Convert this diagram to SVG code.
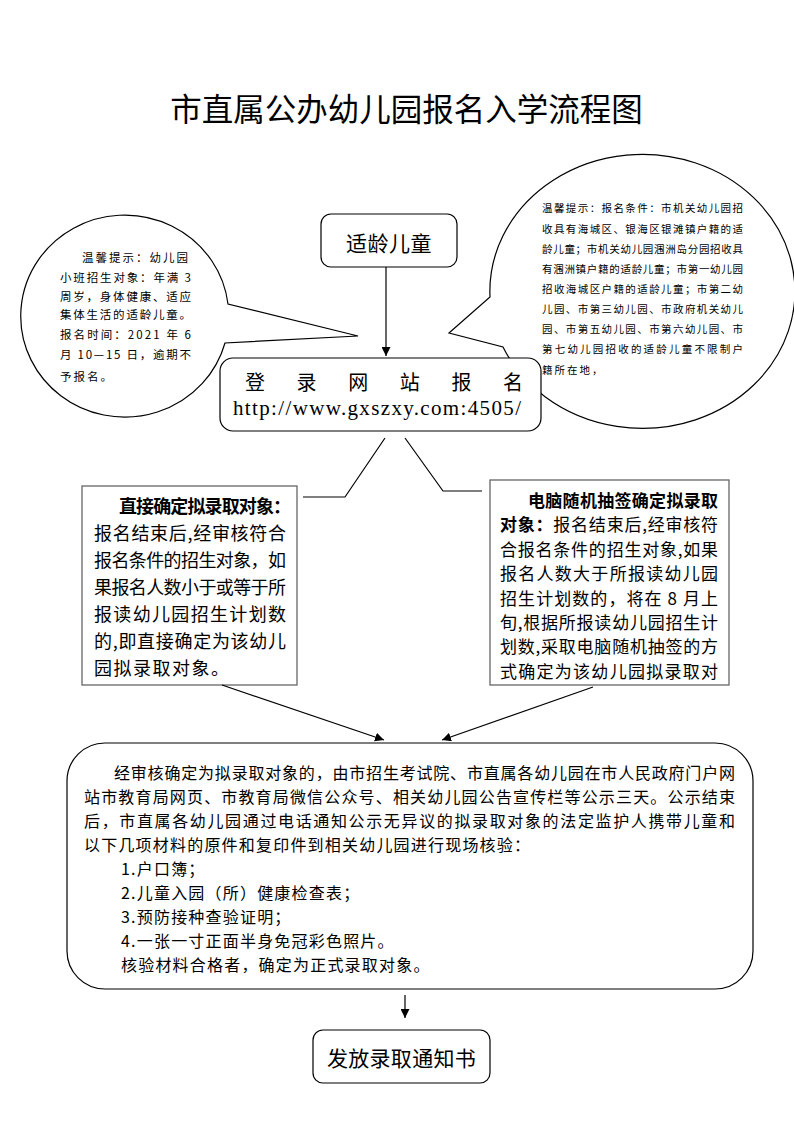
<svg xmlns="http://www.w3.org/2000/svg" width="794" height="1123" viewBox="0 0 794 1123">
<style>
.cjk{font-family:"Noto Sans CJK SC","Noto Sans",sans-serif;fill:#000}
.shape{fill:#fff;stroke:#000;stroke-width:1.2}
.gbox{fill:#fff;stroke:#666;stroke-width:1.3}
.conn{fill:none;stroke:#000;stroke-width:1.2}
.b{font-weight:bold}
</style>
<defs>
<marker id="ah" viewBox="0 0 10 10" refX="10" refY="5" markerWidth="9" markerHeight="9" markerUnits="userSpaceOnUse" orient="auto"><path d="M0,0 L10,5 L0,10 z" fill="#000"/></marker>
</defs>
<rect width="794" height="1123" fill="#fff"/>
<text id="title" class="cjk" x="406.5" y="121" font-size="31.5" text-anchor="middle">市直属公办幼儿园报名入学流程图</text>

<g id="bubble-left">
<path class="shape" d="M228,304 A104 101 0 1 0 225,343 L358,336 Z"/>
<g class="cjk" font-size="11.5">
<text x="82" y="262" letter-spacing="2">温馨提示：幼儿园</text>
<text x="60" y="282" textLength="131" lengthAdjust="spacing">小班招生对象：年满 3</text>
<text x="60" y="300.5" textLength="131" lengthAdjust="spacing">周岁，身体健康、适应</text>
<text x="60" y="318.5" textLength="131" lengthAdjust="spacing">集体生活的适龄儿童。</text>
<text x="60" y="339" textLength="131" lengthAdjust="spacing">报名时间：2021 年 6</text>
<text x="60" y="359" textLength="131" lengthAdjust="spacing">月 10—15 日，逾期不</text>
<text x="60" y="381" letter-spacing="2">予报名。</text>
</g>
</g>

<g id="bubble-right">
<path class="shape" d="M490,297 A152.5 137 0 1 1 503,347 L449,333 Z"/>
<g class="cjk" font-size="10.5">
<text x="542" y="212" textLength="201" lengthAdjust="spacing">温馨提示：报名条件：市机关幼儿园招</text>
<text x="542" y="232.5" textLength="201" lengthAdjust="spacing">收具有海城区、银海区银滩镇户籍的适</text>
<text x="542" y="253" textLength="201" lengthAdjust="spacing">龄儿童；市机关幼儿园涠洲岛分园招收具</text>
<text x="542" y="273" textLength="201" lengthAdjust="spacing">有涠洲镇户籍的适龄儿童；市第一幼儿园</text>
<text x="542" y="293" textLength="201" lengthAdjust="spacing">招收海城区户籍的适龄儿童；市第二幼</text>
<text x="542" y="313" textLength="201" lengthAdjust="spacing">儿园、市第三幼儿园、市政府机关幼儿</text>
<text x="542" y="333" textLength="201" lengthAdjust="spacing">园、市第五幼儿园、市第六幼儿园、市</text>
<text x="542" y="353" textLength="201" lengthAdjust="spacing">第七幼儿园招收的适龄儿童不限制户</text>
<text x="542" y="374" letter-spacing="2">籍所在地，</text>
</g>
</g>

<g id="node-child">
<rect class="shape" x="321" y="214" width="136" height="53" rx="10"/>
<text class="cjk" x="389" y="251" font-size="21" text-anchor="middle" letter-spacing="0.5">适龄儿童</text>
</g>

<g id="node-register">
<rect class="shape" x="220" y="358" width="321" height="73" rx="13"/>
<text class="cjk" x="245 296.6 348.2 399.8 451.4 503" y="389.5" font-size="20">登录网站报名</text>
<text x="233" y="415" font-family="'Liberation Serif',serif" font-size="21" textLength="288" lengthAdjust="spacing">http://www.gxszxy.com:4505/</text>
</g>

<g id="node-direct">
<rect class="gbox" x="82" y="486" width="215" height="199"/>
<g class="cjk" font-size="18">
<text class="b" x="119" y="513" textLength="172" lengthAdjust="spacing">直接确定拟录取对象：</text>
<text x="94" y="540" textLength="192" lengthAdjust="spacing">报名结束后,经审核符合</text>
<text x="94" y="567" textLength="192" lengthAdjust="spacing">报名条件的招生对象，如</text>
<text x="94" y="594" textLength="192" lengthAdjust="spacing">果报名人数小于或等于所</text>
<text x="94" y="621" textLength="192" lengthAdjust="spacing">报读幼儿园招生计划数</text>
<text x="94" y="648" textLength="192" lengthAdjust="spacing">的,即直接确定为该幼儿</text>
<text x="94" y="675" letter-spacing="1.5">园拟录取对象。</text>
</g>
</g>

<g id="node-lottery">
<rect class="gbox" x="490" y="480" width="239" height="205"/>
<g class="cjk" font-size="17">
<text class="b" x="528" y="506.5" textLength="190" lengthAdjust="spacing">电脑随机抽签确定拟录取</text>
<text x="500" y="531" textLength="218" lengthAdjust="spacing"><tspan class="b">对象：</tspan>报名结束后,经审核符</text>
<text x="500" y="555.5" textLength="218" lengthAdjust="spacing">合报名条件的招生对象,如果</text>
<text x="500" y="580" textLength="218" lengthAdjust="spacing">报名人数大于所报读幼儿园</text>
<text x="500" y="604.5" textLength="218" lengthAdjust="spacing">招生计划数的，将在 8 月上</text>
<text x="500" y="629" textLength="218" lengthAdjust="spacing">旬,根据所报读幼儿园招生计</text>
<text x="500" y="653" textLength="218" lengthAdjust="spacing">划数,采取电脑随机抽签的方</text>
<text x="500" y="677.5" textLength="218" lengthAdjust="spacing">式确定为该幼儿园拟录取对</text>
</g>
</g>

<g id="node-verify">
<rect class="shape" x="67" y="743" width="686" height="246" rx="38"/>
<g class="cjk" font-size="16">
<text x="114" y="779" textLength="621" lengthAdjust="spacing">经审核确定为拟录取对象的，由市招生考试院、市直属各幼儿园在市人民政府门户网</text>
<text x="84" y="803" textLength="651" lengthAdjust="spacing">站市教育局网页、市教育局微信公众号、相关幼儿园公告宣传栏等公示三天。公示结束</text>
<text x="84" y="827" textLength="651" lengthAdjust="spacing">后，市直属各幼儿园通过电话通知公示无异议的拟录取对象的法定监护人携带儿童和</text>
<text x="84" y="851" letter-spacing="1.2">以下几项材料的原件和复印件到相关幼儿园进行现场核验：</text>
<text x="121" y="875" letter-spacing="1.2">1.户口簿；</text>
<text x="121" y="899" letter-spacing="1.2">2.儿童入园（所）健康检查表；</text>
<text x="121" y="923" letter-spacing="1.2">3.预防接种查验证明；</text>
<text x="121" y="947" letter-spacing="1.2">4.一张一寸正面半身免冠彩色照片。</text>
<text x="121" y="971" letter-spacing="1.2">核验材料合格者，确定为正式录取对象。</text>
</g>
</g>

<g id="node-notice">
<rect class="shape" x="313" y="1030" width="177" height="53" rx="10"/>
<text class="cjk" x="401.5" y="1066" font-size="21" text-anchor="middle" letter-spacing="0.3">发放录取通知书</text>
</g>

<g id="connectors">
<line class="conn" x1="386" y1="267" x2="386" y2="356" marker-end="url(#ah)"/>
<polyline class="conn" points="385,438 345,497 303,497"/>
<polyline class="conn" points="405,438 443,491 482,491"/>
<line class="conn" x1="222" y1="685" x2="384" y2="740" marker-end="url(#ah)"/>
<line class="conn" x1="593" y1="687" x2="442" y2="740" marker-end="url(#ah)"/>
<line class="conn" x1="405" y1="995" x2="405" y2="1018" marker-end="url(#ah)"/>
</g>
</svg>
